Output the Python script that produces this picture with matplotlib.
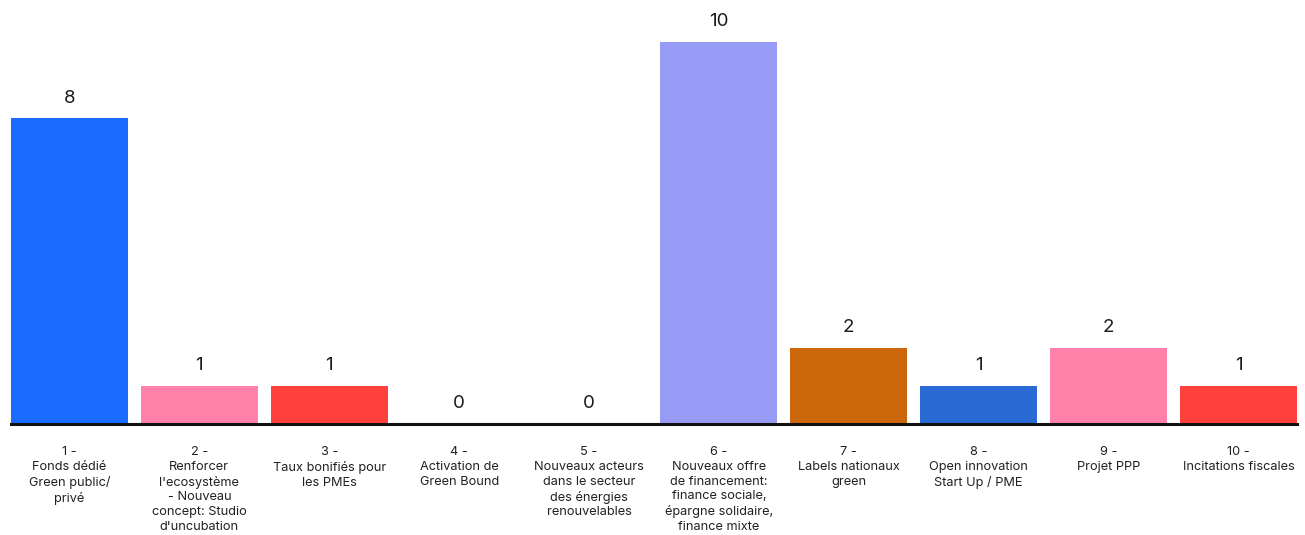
import matplotlib
matplotlib.use("Agg")
import matplotlib.pyplot as plt

plt.rcParams['font.family'] = ['Inter', 'DejaVu Sans']

categories = [
    "1 -\nFonds dédié\nGreen public/\nprivé",
    "2 -\nRenforcer\nl'ecosystème\n- Nouveau\nconcept: Studio\nd'uncubation",
    "3 -\nTaux bonifiés pour\nles PMEs",
    "4 -\nActivation de\nGreen Bound",
    "5 -\nNouveaux acteurs\ndans le secteur\ndes énergies\nrenouvelables",
    "6 -\nNouveaux offre\nde financement:\nfinance sociale,\népargne solidaire,\nfinance mixte",
    "7 -\nLabels nationaux\ngreen",
    "8 -\nOpen innovation\nStart Up / PME",
    "9 -\nProjet PPP",
    "10 -\nIncitations fiscales",
]
votes = [8, 1, 1, 0, 0, 10, 2, 1, 2, 1]
colors = ["#196cff", "#ff80a8", "#ff403c", "#196cff", "#ff80a8",
          "#979bf5", "#cc660a", "#2a6ad4", "#ff80a8", "#ff403c"]

W, H = 1305, 535
fig = plt.figure(figsize=(W / 100, H / 100), dpi=100)
left, right = 11 / W, 1297 / W
bottom = (H - 424) / H
height = 382 * 1.1 / H
ax = fig.add_axes([left, bottom, right - left, height])

x = list(range(len(votes)))
ax.bar(x, votes, width=0.9, color=colors)
ax.set_xlim(-0.45, len(votes) - 0.55)
ax.set_ylim(0, 11)

for xi, v in zip(x, votes):
    ax.annotate(str(v), (xi, v), xytext=(0, 8.5), textcoords="offset points",
                ha="center", va="bottom", fontsize=13.5, color="#1a1a1a")

for side in ("top", "right", "left"):
    ax.spines[side].set_visible(False)
ax.spines["bottom"].set_linewidth(2.2)
ax.spines["bottom"].set_color("#111111")
ax.set_yticks([])
ax.set_xticks(x)
ax.set_xticklabels(categories, fontsize=9.2, color="#222222", linespacing=1.3)
ax.tick_params(axis="x", length=0, pad=16)

fig.savefig("out.png", dpi=100, facecolor="white")
